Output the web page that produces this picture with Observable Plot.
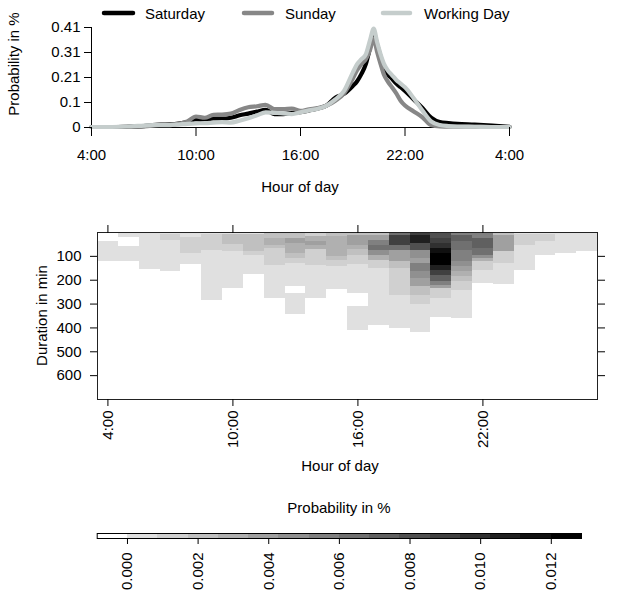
<!DOCTYPE html>
<html><head><meta charset="utf-8">
<script src="https://cdn.jsdelivr.net/npm/d3@7"></script>
<script src="https://cdn.jsdelivr.net/npm/@observablehq/plot@0.6"></script>
<style>
html,body{margin:0;padding:0;background:#fff;}
#fig{position:relative;width:627px;height:597px;overflow:hidden;font-family:"Liberation Sans",Arial,sans-serif;}
#fig svg{position:absolute;left:0;}
</style></head><body><div id="fig"></div>
<script>
const FONT = '"Liberation Sans", Arial, sans-serif';

// ---------- line chart data ----------
const lineHours = [4,5,6,7,7.5,8,8.5,9,9.5,10,10.5,11,11.5,12,12.5,13,13.5,14,14.5,15,15.5,16,16.5,17,17.5,18,18.5,19,19.25,19.5,19.75,20,20.2,20.4,20.6,20.8,21,21.25,21.5,21.75,22,22.5,23,23.5,24,24.5,25,26,27,28];
const saturday = [0.002,0.002,0.003,0.006,0.01,0.012,0.013,0.016,0.022,0.033,
  0.032,0.037,0.036,0.04,0.05,0.057,0.065,0.072,0.055,0.055,
  0.06,0.063,0.07,0.078,0.09,0.122,0.138,0.17,0.19,0.22,
  0.26,0.33,0.388,0.34,0.29,0.25,0.22,0.2,0.18,0.165,
  0.15,0.115,0.08,0.04,0.022,0.018,0.015,0.012,0.008,0.003];
const sunday = [0.002,0.002,0.003,0.005,0.008,0.012,0.012,0.015,0.025,0.045,
  0.04,0.052,0.053,0.057,0.072,0.083,0.087,0.093,0.075,0.075,
  0.078,0.068,0.075,0.08,0.09,0.11,0.14,0.2,0.235,0.26,
  0.28,0.32,0.365,0.31,0.26,0.215,0.19,0.165,0.14,0.11,
  0.09,0.066,0.042,0.01,0.004,0.003,0.003,0.003,0.002,0.002];
const workingDay = [0.002,0.002,0.004,0.008,0.01,0.01,0.01,0.012,0.015,0.017,
  0.018,0.02,0.022,0.02,0.028,0.038,0.05,0.062,0.06,0.058,
  0.055,0.062,0.07,0.077,0.09,0.115,0.15,0.225,0.26,0.28,
  0.30,0.36,0.405,0.35,0.30,0.26,0.235,0.215,0.195,0.18,
  0.165,0.12,0.07,0.025,0.01,0.006,0.004,0.003,0.002,0.002];
const seriesNames = ["Saturday","Sunday","Working Day"];
const seriesColors = ["#000000","#878787","#c5cdcc"];
const probTicks = [0,0.1025,0.205,0.3075,0.41];
const probTickLabels = ["0","0.1","0.21","0.31","0.41"];
const hourTicks = [4,10,16,22,28];

// ---------- heat map data: [hour, duration from (min), duration to (min), probability in %] ----------
const heatHourTicks = [4,10,16,22];
const durationTicks = [100,200,300,400,500,600];
const heatCells = [
  [4,36,120,0.0004],
  [5,0,23,0.0004],[5,57,123,0.0004],
  [6,0,155,0.0004],
  [7,0,7,0.0004],[7,7,32,0.0013],[7,32,162,0.0004],
  [8,0,20,0.0004],[8,20,88,0.0013],[8,88,134,0.0004],
  [9,0,10,0.0004],[9,10,77,0.0013],[9,77,285,0.0004],
  [10,0,8,0.0004],[10,8,50,0.0021],[10,50,78,0.0013],[10,78,235,0.0004],
  [11,0,8,0.0004],[11,8,78,0.0021],[11,78,95,0.0013],[11,95,176,0.0004],
  [12,0,4,0.0004],[12,4,25,0.0021],[12,25,53,0.0030],[12,53,67,0.0021],[12,67,137,0.0013],[12,137,277,0.0004],
  [13,0,25,0.0021],[13,25,46,0.0039],[13,46,88,0.0030],[13,88,109,0.0021],[13,109,130,0.0013],[13,130,228,0.0004],[13,256,344,0.0004],
  [14,0,18,0.0013],[14,18,36,0.0030],[14,36,56,0.0039],[14,56,70,0.0030],[14,70,137,0.0013],[14,137,277,0.0004],
  [15,0,18,0.0021],[15,18,102,0.0030],[15,102,119,0.0021],[15,119,144,0.0013],[15,144,239,0.0004],
  [16,0,11,0.0021],[16,11,53,0.0039],[16,53,70,0.0030],[16,70,95,0.0021],[16,95,134,0.0013],[16,134,256,0.0004],[16,311,409,0.0004],
  [17,0,11,0.0021],[17,11,32,0.0039],[17,32,53,0.0056],[17,53,74,0.0064],[17,74,95,0.0047],[17,95,116,0.0030],[17,116,151,0.0013],[17,151,388,0.0004],
  [18,0,11,0.0064],[18,11,53,0.0090],[18,53,74,0.0064],[18,74,123,0.0039],[18,123,151,0.0021],[18,151,265,0.0013],[18,265,402,0.0004],
  [19,0,11,0.0090],[19,11,46,0.0107],[19,46,74,0.0081],[19,74,109,0.0047],[19,109,130,0.0039],[19,130,165,0.0056],[19,165,193,0.0047],[19,193,228,0.0039],[19,228,263,0.0021],[19,263,302,0.0013],[19,302,418,0.0004],
  [20,0,25,0.0081],[20,25,46,0.0090],[20,46,67,0.0099],[20,67,88,0.0116],[20,88,137,0.0124],[20,137,158,0.0107],[20,158,179,0.0090],[20,179,207,0.0073],[20,207,222,0.0056],[20,222,236,0.0039],[20,236,278,0.0013],[20,278,355,0.0004],
  [21,0,11,0.0056],[21,11,39,0.0073],[21,39,74,0.0064],[21,74,123,0.0056],[21,123,144,0.0047],[21,144,165,0.0039],[21,165,186,0.0030],[21,186,207,0.0021],[21,207,242,0.0013],[21,242,362,0.0004],
  [22,0,25,0.0056],[22,25,67,0.0073],[22,67,95,0.0064],[22,95,109,0.0047],[22,109,123,0.0030],[22,123,158,0.0013],[22,158,214,0.0004],
  [23,0,14,0.0021],[23,14,78,0.0039],[23,78,130,0.0013],[23,130,216,0.0004],
  [24,0,8,0.0004],[24,8,53,0.0013],[24,53,158,0.0004],
  [25,0,8,0.0004],[25,8,39,0.0013],[25,39,97,0.0004],
  [26,0,86,0.0004],
  [27,0,80,0.0004]
];
const legendTicks = [0,0.002,0.004,0.006,0.008,0.010,0.012];
const levelStep = 0.000857;
const grayRamp = ["#ffffff","#e0e0e0","#d0d0d0","#c0c0c0","#b0b0b0","#a0a0a0","#909090","#808080","#707070","#606060","#505050","#404040","#303030","#202020","#101010","#000000"];

const fig = document.getElementById("fig");
const baseStyle = {fontFamily: FONT, fontSize: "15px", color: "#000", background: "transparent", overflow: "visible"};

// ---------- top: line chart ----------
const seriesValues = [saturday, sunday, workingDay];
const lineRows = seriesNames.flatMap((name, s) => lineHours.map((h, i) => ({hour: h, prob: seriesValues[s][i], series: name})));
const hourFmt = d => `${d % 24}:00`;

const topPlot = Plot.plot({
  width: 627, height: 200,
  marginLeft: 91, marginRight: 118, marginTop: 27, marginBottom: 73,
  style: baseStyle,
  x: {domain: [4, 28]},
  y: {domain: [0, 0.41]},
  color: {domain: seriesNames, range: seriesColors},
  marks: [
    Plot.ruleY([0], {x1: 4, x2: 28, stroke: "#000", strokeWidth: 1}),
    Plot.ruleX([4], {y1: 0, y2: 0.41, stroke: "#000", strokeWidth: 1}),
    Plot.line(lineRows, {x: "hour", y: "prob", z: "series", stroke: "series", strokeWidth: 4.2, curve: "monotone-x", strokeLinejoin: "round", strokeLinecap: "round"}),
    Plot.axisX({ticks: hourTicks, tickFormat: hourFmt, tickSize: 9, tickPadding: 13, label: null, fontSize: 15}),
    Plot.axisY({ticks: probTicks, tickFormat: d => probTickLabels[probTicks.indexOf(d)], tickSize: 7, tickPadding: 4, label: null, fontSize: 15})
  ]
});
topPlot.style.top = "0px";
fig.appendChild(topPlot);
{
  const svg = d3.select(topPlot);
  const g = svg.append("g").attr("font-family", FONT).attr("font-size", 15).attr("fill", "#000");
  const legendItems = [[104,133,145],[244,272,285],[383,410,424]];
  seriesNames.forEach((name, i) => {
    const [a, b, t] = legendItems[i];
    g.append("line").attr("x1", a).attr("x2", b).attr("y1", 13).attr("y2", 13)
      .attr("stroke", seriesColors[i]).attr("stroke-width", 4.5).attr("stroke-linecap", "round");
    g.append("text").attr("x", t).attr("y", 18.5).attr("text-anchor", "start").text(name);
  });
  g.append("text").attr("x", 300).attr("y", 192).attr("text-anchor", "middle").text("Hour of day");
  g.append("text").attr("transform", "translate(19,64) rotate(-90)").attr("text-anchor", "middle").text("Probability in %");
}

// ---------- middle: heat map ----------
const thresholds = d3.range(15).map(i => i * levelStep);
const colorOpts = {type: "threshold", domain: thresholds, range: grayRamp};
const cellRows = heatCells.map(([hour, from, to, prob]) => ({x1: hour - 0.5, x2: hour + 0.5, from, to, prob}));

const heatPlot = Plot.plot({
  width: 627, height: 280,
  marginLeft: 97, marginRight: 30, marginTop: 32, marginBottom: 81,
  style: baseStyle,
  x: {domain: [3.5, 27.5]},
  y: {domain: [0, 700], reverse: true},
  color: colorOpts,
  marks: [
    Plot.rect(cellRows, {x1: "x1", x2: "x2", y1: "from", y2: "to", fill: "prob", shapeRendering: "crispEdges"}),
    Plot.frame({stroke: "#222"}),
    Plot.axisY({anchor: "left", ticks: durationTicks, tickSize: 7, tickPadding: 9, label: null, fontSize: 15}),
    Plot.axisY({anchor: "right", ticks: durationTicks, tickSize: 7, tickFormat: () => "", label: null}),
    Plot.axisX({anchor: "bottom", ticks: heatHourTicks, tickFormat: hourFmt, tickRotate: -90, tickSize: 7, tickPadding: 4, label: null, fontSize: 15}),
    Plot.axisX({anchor: "top", ticks: heatHourTicks, tickSize: 8, tickFormat: () => "", label: null})
  ]
});
heatPlot.style.top = "200px";
fig.appendChild(heatPlot);
{
  const g = d3.select(heatPlot).append("g").attr("font-family", FONT).attr("font-size", 15).attr("fill", "#000");
  g.append("text").attr("x", 340).attr("y", 271).attr("text-anchor", "middle").text("Hour of day");
  g.append("text").attr("transform", "translate(47,115.5) rotate(-90)").attr("text-anchor", "middle").text("Duration in min");
}

// ---------- bottom: colour key ----------
const legendRows = d3.range(16).map(j => ({x1: (j - 1) * levelStep, x2: j * levelStep, value: (j - 0.5) * levelStep}));
const keyPlot = Plot.plot({
  width: 627, height: 117,
  marginLeft: 96.7, marginRight: 46, marginTop: 53, marginBottom: 59,
  style: baseStyle,
  x: {domain: [-levelStep, 15 * levelStep]},
  y: {domain: [0, 1], axis: null},
  color: colorOpts,
  marks: [
    Plot.rect(legendRows, {x1: "x1", x2: "x2", y1: 0, y2: 1, fill: "value", shapeRendering: "crispEdges"}),
    Plot.frame({stroke: "#000"}),
    Plot.axisX({ticks: legendTicks, tickFormat: d3.format(".3f"), tickRotate: -90, tickSize: 6, tickPadding: 8, label: null, fontSize: 15})
  ]
});
keyPlot.style.top = "480px";
fig.appendChild(keyPlot);
d3.select(keyPlot).append("text").attr("font-family", FONT).attr("font-size", 15)
  .attr("x", 339).attr("y", 33).attr("text-anchor", "middle").text("Probability in %");
</script></body></html>
